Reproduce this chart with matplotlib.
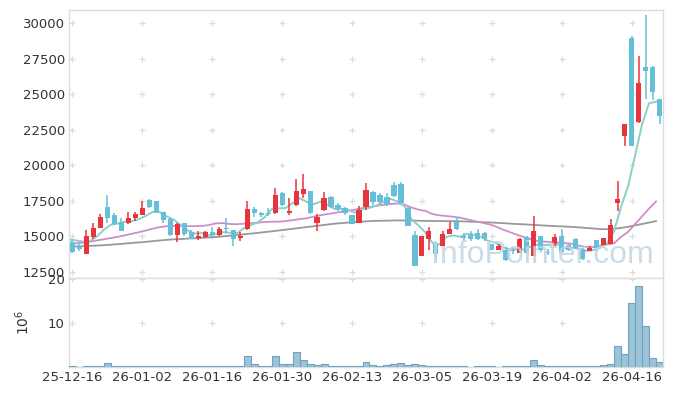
import matplotlib
matplotlib.use("Agg")
import matplotlib.pyplot as plt
import numpy as np

# daily candles, Korean trading days 25-12-16 .. 26-04-22
opens = [14600, 14340, 13750, 14950, 15610, 17050, 16460, 15970, 15940, 16250,
         16490, 17550, 17480, 16720, 16200, 15090, 15900, 15310, 14880, 14950,
         15280, 15070, 15590, 15400, 14880, 15500, 16910, 16610, 16610, 16610,
         18050, 16610, 17200, 17980, 18190, 15940, 16840, 17760, 17200, 16960,
         16490, 15940, 17050, 18120, 17900, 17740, 18610, 18680, 16960, 15070,
         13610, 14790, 14480, 14310, 15140, 15970, 14980, 15070, 15210, 15190,
         14480, 14010, 14010, 13980, 13820, 14950, 13610, 15000, 13900, 14480,
         15000, 14410, 14830, 14130, 13960, 14720, 14360, 14480, 17310, 22040,
         28960, 23030, 26950, 26950, 24640]
highs = [14720, 14430, 15400, 15940, 16560, 17900, 16600, 16250, 16680, 16700,
         17480, 17600, 17480, 16720, 16250, 15940, 15900, 15400, 15380, 15380,
         15660, 15660, 16250, 15470, 15310, 17500, 17080, 16680, 16960, 18380,
         18090, 17670, 19040, 19390, 18210, 16530, 18090, 17860, 17310, 17080,
         16490, 17130, 18730, 18190, 18070, 18070, 18850, 18850, 17030, 15350,
         15020, 15660, 14530, 15350, 16020, 16370, 15190, 15350, 15520, 15310,
         14480, 14480, 14240, 14240, 14840, 15020, 16420, 15000, 14060, 15120,
         15540, 14480, 14900, 14170, 14290, 14760, 14900, 16200, 18920, 22940,
         29120, 27710, 30590, 27000, 24640]
lows = [13820, 13940, 13750, 14830, 15570, 15900, 15780, 15330, 15850, 16090,
        16490, 17010, 16600, 15940, 15020, 14620, 15020, 14780, 14760, 14880,
        14950, 15000, 15190, 14340, 14670, 15420, 16370, 16320, 16440, 16540,
        17130, 16490, 17130, 17670, 16540, 15380, 16790, 17010, 16750, 16490,
        15830, 15900, 16840, 17220, 17270, 17130, 17790, 17310, 15710, 12870,
        13580, 14050, 13300, 14290, 15120, 15470, 14600, 14670, 14740, 14670,
        14010, 13990, 13250, 13770, 13820, 13770, 13580, 13890, 13650, 14290,
        13820, 13960, 14130, 13350, 13960, 13960, 14360, 14430, 16770, 21330,
        21330, 22990, 24680, 24590, 22910]
closes = [13890, 14100, 14980, 15610, 16320, 16300, 15830, 15380, 16250, 16560,
          16980, 17050, 16720, 16130, 15070, 15850, 15120, 14830, 15020, 15260,
          15070, 15540, 15500, 14810, 15020, 16910, 16650, 16510, 16560, 17900,
          17200, 16790, 18190, 18330, 16610, 16320, 17690, 17050, 16910, 16650,
          15850, 16840, 18260, 17410, 17410, 17240, 17830, 17360, 15710, 12870,
          15020, 15350, 13720, 15120, 15540, 15500, 14900, 14790, 14790, 14790,
          14010, 14310, 13350, 13940, 14790, 13840, 15350, 14030, 13830, 14950,
          13910, 14050, 14200, 13420, 14200, 14200, 14900, 15760, 17620, 22940,
          21330, 25820, 26640, 25160, 23500]
# volume, millions of shares
volume = [0.2, 0.1, 0.3, 0.2, 0.3, 1.0, 0.15, 0.15, 0.3, 0.15,
          0.3, 0.15, 0.3, 0.15, 0.15, 0.3, 0.15, 0.3, 0.15, 0.15,
          0.15, 0.15, 0.15, 0.15, 0.15, 2.4, 0.6, 0.15, 0.3, 2.4,
          0.6, 0.6, 3.3, 1.5, 0.6, 0.4, 0.6, 0.15, 0.15, 0.15,
          0.15, 0.15, 1.1, 0.4, 0.2, 0.4, 0.6, 0.8, 0.4, 0.6,
          0.4, 0.15, 0.15, 0.15, 0.15, 0.15, 0.15, 0.0, 0.15, 0.15,
          0.15, 0.0, 0.15, 0.15, 0.15, 0.15, 1.6, 0.4, 0.15, 0.15,
          0.15, 0.15, 0.15, 0.15, 0.15, 0.15, 0.4, 0.6, 4.75, 2.9,
          14.5, 18.3, 9.3, 2.0, 1.1]
# moving averages as drawn
ma5 = [14780, 14700, 14620, 14660, 14980, 15460, 15810, 15890, 16020, 16060,
       16200, 16440, 16710, 16690, 16390, 16160, 15780, 15400, 15180, 15220,
       15060, 15140, 15280, 15240, 15190, 15560, 15780, 15980, 16330, 16910,
       16960, 16990, 17330, 17680, 17420, 17250, 17430, 17200, 16920, 16920,
       16830, 16660, 16900, 17000, 17150, 17430, 17630, 17450, 17110, 16200,
       15760, 15260, 14530, 14420, 14950, 15050, 14960, 15170, 15100, 14950,
       14660, 14540, 14250, 14080, 14080, 14050, 14250, 14390, 14370, 14400,
       14410, 14150, 14190, 14110, 13960, 14010, 14180, 14500, 15340, 17080,
       18510, 20690, 22870, 24380, 24490]
ma20 = [14480, 14500, 14530, 14600, 14700, 14780, 14870, 14960, 15060, 15170,
        15280, 15400, 15530, 15640, 15700, 15720, 15720, 15710, 15710, 15720,
        15780, 15900, 15920, 15860, 15840, 15880, 15910, 15950, 16000, 16020,
        16020, 16060, 16130, 16200, 16260, 16380, 16480, 16560, 16640, 16720,
        16800, 16880, 16980, 17060, 17140, 17210, 17270, 17310, 17220, 17020,
        16870, 16780, 16560, 16470, 16420, 16370, 16300, 16180, 16070, 15960,
        15850, 15700, 15480, 15300, 15120, 14950, 14800, 14670, 14620, 14580,
        14550, 14510, 14460, 14330, 14250, 14240, 14330, 14420, 14500, 14950,
        15300, 15850, 16400, 16950, 17450]
ma60 = [14260, 14280, 14300, 14320, 14340, 14360, 14400, 14440, 14480, 14520,
        14560, 14600, 14650, 14700, 14740, 14780, 14800, 14830, 14850, 14880,
        14910, 14940, 14980, 15030, 15080, 15130, 15180, 15230, 15290, 15340,
        15400, 15460, 15520, 15580, 15640, 15700, 15760, 15820, 15880, 15920,
        15960, 16000, 16030, 16060, 16080, 16090, 16100, 16110, 16110, 16100,
        16090, 16080, 16070, 16070, 16060, 16060, 16050, 16030, 16010, 15990,
        15970, 15950, 15920, 15890, 15860, 15840, 15810, 15780, 15750, 15720,
        15700, 15680, 15650, 15620, 15580, 15540, 15500, 15490, 15520, 15580,
        15660, 15760, 15860, 15960, 16060]
date_labels = ['25-12-16', '26-01-02', '26-01-16', '26-01-30', '26-02-13',
               '26-03-05', '26-03-19', '26-04-02', '26-04-16']

UP = '#e8343b'
DOWN = '#66bfd8'
GRID = '#dcdcdc'

n = len(closes)
x = np.arange(n)
o = np.array(opens); c = np.array(closes)
h = np.array(highs); l = np.array(lows)
up = c >= o
colors = np.where(up, UP, DOWN)

fig = plt.figure(figsize=(6.73, 3.96), dpi=100)
L, R = 69 / 673, 663 / 673
ax = fig.add_axes([L, 1 - 278 / 396, R - L, (278 - 10) / 396])
axv = fig.add_axes([L, 1 - 367 / 396, R - L, (367 - 278) / 396], sharex=ax)

# moving averages (drawn on the category edge)
ax.plot(x - 0.5, ma60, color='#999999', lw=1.3, zorder=2)
ax.plot(x - 0.5, ma20, color='#cc8fcc', lw=1.3, zorder=2)
ax.plot(x - 0.5, ma5, color='#8dcfc6', lw=1.4, zorder=2)

# candles
ax.vlines(x, l, h, colors=colors, lw=1.1, zorder=3)
body = np.maximum(np.abs(c - o), 60)
ax.bar(x, body, bottom=np.minimum(o, c), width=0.74, color=colors,
       linewidth=0, zorder=4)

ax.set_xlim(-0.5, n - 0.5)
ax.set_ylim(12050, 30950)
yt = np.arange(12500, 30001, 2500)
ax.set_yticks(yt)
xt = np.arange(0, n, 10)

# volume
axv.bar(x, volume, width=1.0, color='#9cc3d7', edgecolor='#6fa3c3',
        linewidth=0.8, zorder=3)
axv.set_ylim(0, 20.2)
vt = [10, 20]
axv.set_yticks(vt)
axv.set_xticks(xt)
axv.set_xticklabels(date_labels)
axv.set_ylabel(r'$\mathregular{10^6}$', fontsize=10, color='#333333')
axv.yaxis.set_label_coords(-0.062, 0.5)

# cross markers at grid intersections
gx, gy = np.meshgrid(xt, yt)
ax.plot(gx.ravel(), gy.ravel(), '+', color=GRID, ms=5, mew=0.9, zorder=1)
gx, gy = np.meshgrid(xt, vt)
axv.plot(gx.ravel(), gy.ravel(), '+', color=GRID, ms=5, mew=0.9, zorder=1)

for a in (ax, axv):
    for s in a.spines.values():
        s.set_color('#dddddd')
        s.set_linewidth(1)
    a.tick_params(length=0, labelsize=9.5, colors='#333333', pad=3)
ax.tick_params(labelbottom=False)

ax.text(0.985, 0.03, 'InfoPointer.com', transform=ax.transAxes,
        ha='right', va='bottom', fontsize=23, family='Liberation Sans',
        color='#c2d6e3', alpha=0.85, zorder=6)

fig.savefig('out.png', dpi=100)
